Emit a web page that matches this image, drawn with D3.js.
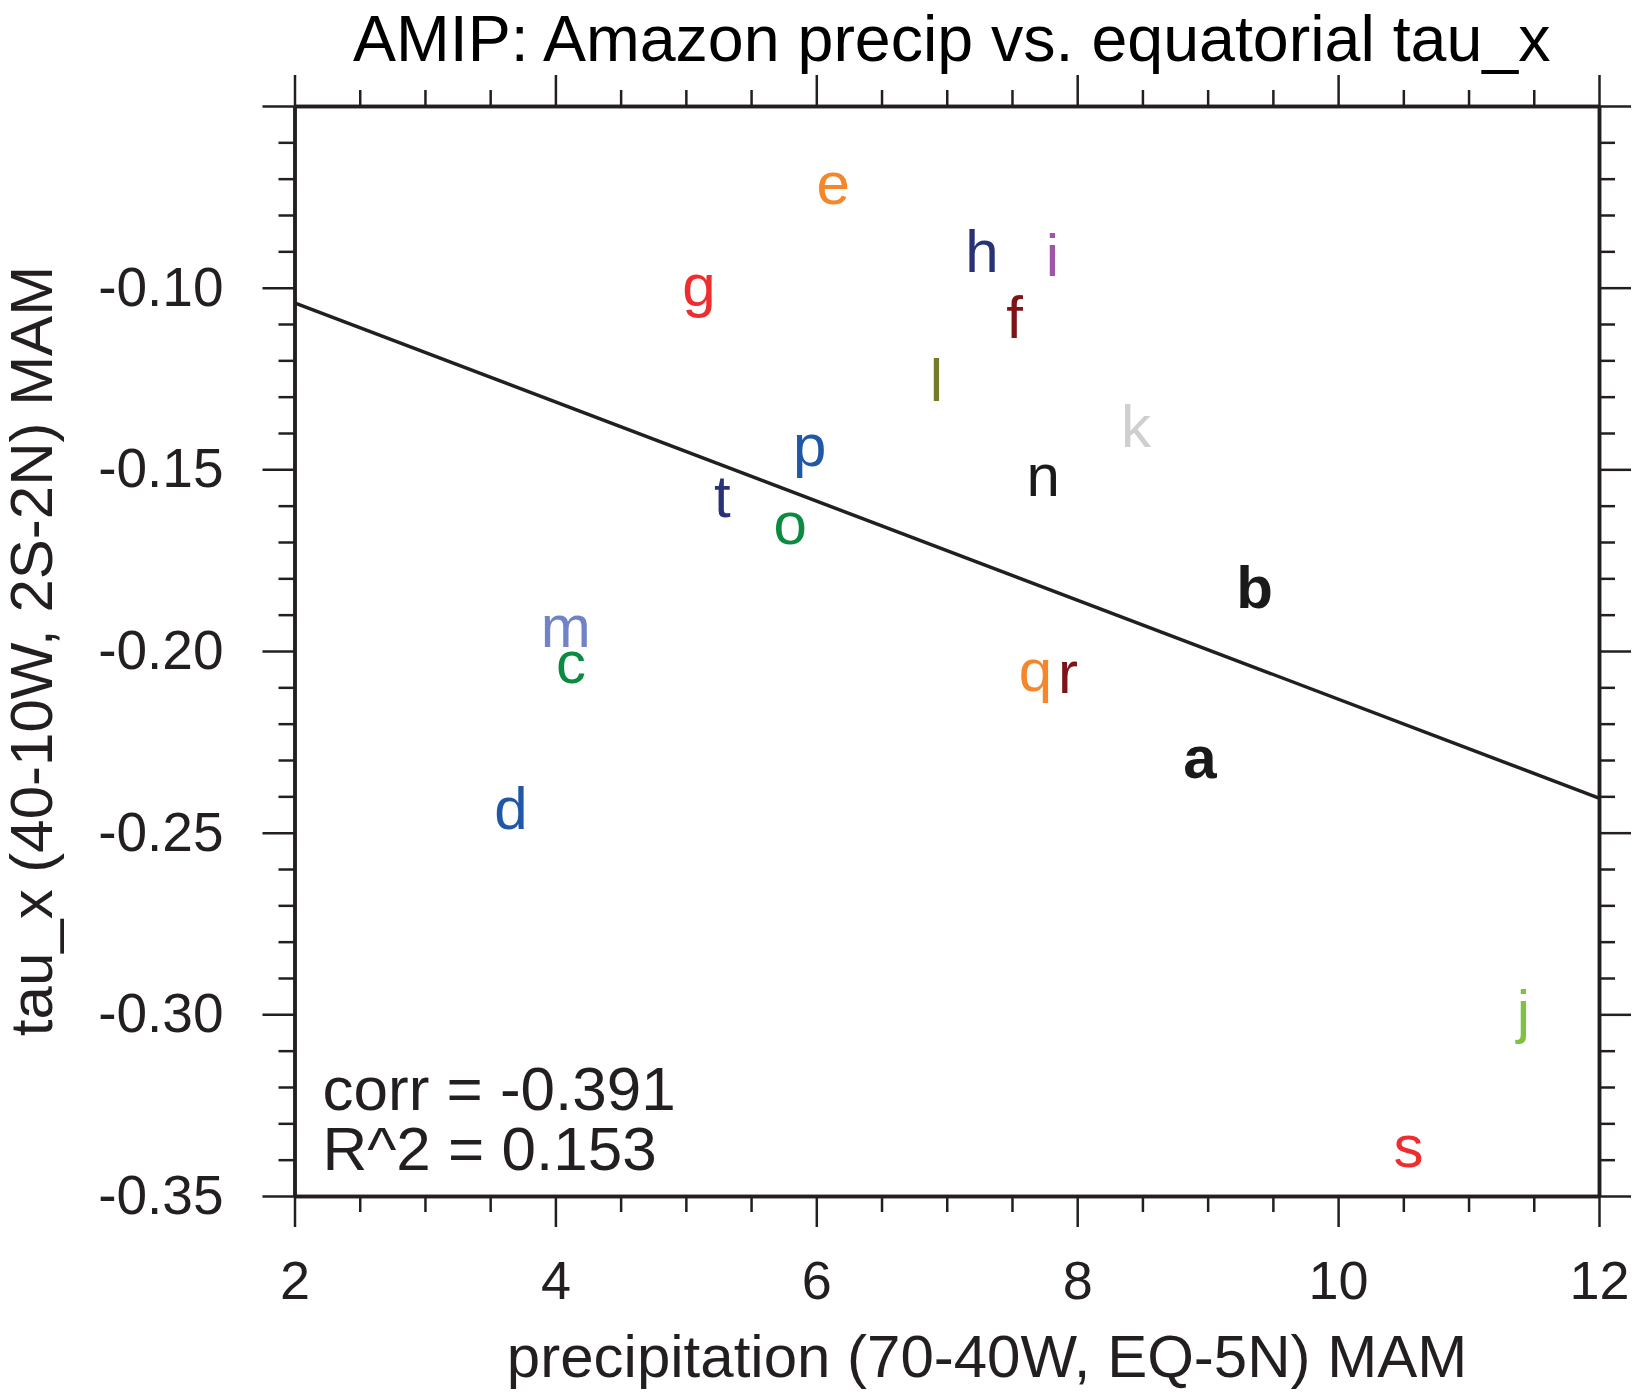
<!DOCTYPE html>
<meta charset="utf-8">
<style>
body { margin: 0; background: #fff; }
* { font-family: "Liberation Sans", Arial, Helvetica, sans-serif; }
.axis line, .axis path { stroke: #231f20; }
</style>
<body>
<script src="https://cdn.jsdelivr.net/npm/d3@7/dist/d3.min.js"></script>
<script>

// model letters, their precipitation (x) and tau_x (y) values
var labels = ["a","b","c","d","e","f","g","h","i","j","k","l","m","n","o","p","q","r","s","t"];
var precip = [8.94, 9.36, 4.12, 3.66, 6.13, 7.52, 5.10, 7.27, 7.81, 11.42,
              8.45, 6.92, 4.08, 7.74, 5.80, 5.95, 7.68, 7.93, 10.54, 5.28];
var taux = [-0.2290, -0.1823, -0.2029, -0.2430, -0.0711, -0.1078, -0.0992, -0.0898, -0.0909, -0.2989,
            -0.1379, -0.1253, -0.1929, -0.1514, -0.1645, -0.1431, -0.2052, -0.2055, -0.3361, -0.1571];
var colors = ["#1a1a1a","#1a1a1a","#0b8a41","#2058a8","#f5862a","#7d1418","#ee2e2e","#283275","#9e57a6","#7dc242",
              "#cfcfcf","#757a28","#7282c6","#1a1a1a","#0b8a41","#2058a8","#f5862a","#7d1418","#ee2e2e","#283275"];
var bold = ["a","b"];

// regression line end points
var fitX = [2, 12];
var fitY = [-0.1042, -0.2405];

var xTicks = [2, 4, 6, 8, 10, 12];
var yTicks = [-0.35, -0.30, -0.25, -0.20, -0.15, -0.10, -0.05];
var yTickLabels = ["-0.35", "-0.30", "-0.25", "-0.20", "-0.15", "-0.10", ""];
var statLines = ["corr = -0.391", "R^2 = 0.153"];

var margin = {top: 106, right: 33, bottom: 197, left: 294.5},
    width = 1632 - margin.left - margin.right,
    height = 1393 - margin.top - margin.bottom;

var x = d3.scaleLinear().domain([2, 12]).range([0, width]);
var y = d3.scaleLinear().domain([-0.35, -0.05]).range([height, 0]);

var svg = d3.select("body").append("svg")
    .attr("width", 1632)
    .attr("height", 1393)
  .append("g")
    .attr("transform", "translate(" + margin.left + "," + margin.top + ")");

var xMinor = d3.range(2, 12.01, 0.5).filter(function(d) { return d % 2 !== 0; });
var yMinor = d3.range(-35, -4, 1).map(function(d) { return d / 100; })
    .filter(function(d) { return Math.round(d * 100) % 5 !== 0; });

function ticks(g, axis) {
  g.attr("class", "axis")
   .call(axis)
   .call(function(s) { s.select(".domain").attr("stroke-width", 3.5); })
   .call(function(s) { s.selectAll(".tick line").attr("stroke-width", 2.5); });
}

// bottom axis: major + minor
svg.append("g").attr("transform", "translate(0," + height + ")")
  .call(ticks, d3.axisBottom(x).tickValues(xTicks).tickSize(31).tickSizeOuter(0).tickPadding(34))
  .selectAll("text").attr("font-size", 54).attr("fill", "#231f20")
    .attr("font-family", "Liberation Sans");
svg.append("g").attr("transform", "translate(0," + height + ")")
  .call(ticks, d3.axisBottom(x).tickValues(xMinor).tickSize(16).tickSizeOuter(0).tickFormat(""));

// top axis
svg.append("g")
  .call(ticks, d3.axisTop(x).tickValues(xTicks).tickSize(31).tickSizeOuter(0).tickFormat(""));
svg.append("g")
  .call(ticks, d3.axisTop(x).tickValues(xMinor).tickSize(16).tickSizeOuter(0).tickFormat(""));

// left axis
svg.append("g")
  .call(ticks, d3.axisLeft(y).tickValues(yTicks).tickSize(32).tickSizeOuter(0).tickPadding(39)
      .tickFormat(function(d, i) { return yTickLabels[i]; }))
  .selectAll("text").attr("font-size", 55).attr("fill", "#231f20")
    .attr("font-family", "Liberation Sans");
svg.append("g")
  .call(ticks, d3.axisLeft(y).tickValues(yMinor).tickSize(16).tickSizeOuter(0).tickFormat(""));

// right axis
svg.append("g").attr("transform", "translate(" + width + ",0)")
  .call(ticks, d3.axisRight(y).tickValues(yTicks).tickSize(32).tickSizeOuter(0).tickFormat(""));
svg.append("g").attr("transform", "translate(" + width + ",0)")
  .call(ticks, d3.axisRight(y).tickValues(yMinor).tickSize(16).tickSizeOuter(0).tickFormat(""));

// regression line
svg.append("path")
    .datum(d3.zip(fitX, fitY))
    .attr("fill", "none")
    .attr("stroke", "#231f20")
    .attr("stroke-width", 3.5)
    .attr("d", d3.line().x(function(d) { return x(d[0]); }).y(function(d) { return y(d[1]); }));

// model letters
svg.selectAll(".lbl")
    .data(labels)
  .enter().append("text")
    .attr("class", "lbl")
    .attr("x", function(d, i) { return x(precip[i]); })
    .attr("y", function(d, i) { return y(taux[i]); })
    .attr("dy", "0.36em")
    .attr("text-anchor", "middle")
    .attr("font-size", 60)
    .attr("font-weight", function(d) { return bold.indexOf(d) >= 0 ? "bold" : "normal"; })
    .attr("fill", function(d, i) { return colors[i]; })
    .text(function(d) { return d; });

// stats
svg.selectAll(".stat")
    .data(statLines)
  .enter().append("text")
    .attr("class", "stat")
    .attr("x", 28)
    .attr("y", function(d, i) { return 1003.5 + i * 60; })
    .attr("font-size", 62)
    .attr("fill", "#231f20")
    .text(function(d) { return d; });

// title and axis labels
svg.append("text")
    .attr("x", width / 2 + 5)
    .attr("y", -45)
    .attr("text-anchor", "middle")
    .attr("font-size", 64.5)
    .attr("fill", "#000")
    .text("AMIP: Amazon precip vs. equatorial tau_x");

svg.append("text")
    .attr("x", 692.5)
    .attr("y", height + 181)
    .attr("text-anchor", "middle")
    .attr("font-size", 60)
    .attr("fill", "#231f20")
    .text("precipitation (70-40W, EQ-5N) MAM");

svg.append("text")
    .attr("transform", "translate(" + (52 - margin.left) + "," + (height / 2) + ")rotate(-90)")
    .attr("text-anchor", "middle")
    .attr("font-size", 60)
    .attr("fill", "#231f20")
    .text("tau_x (40-10W, 2S-2N) MAM");

</script>
</body>
</html>
